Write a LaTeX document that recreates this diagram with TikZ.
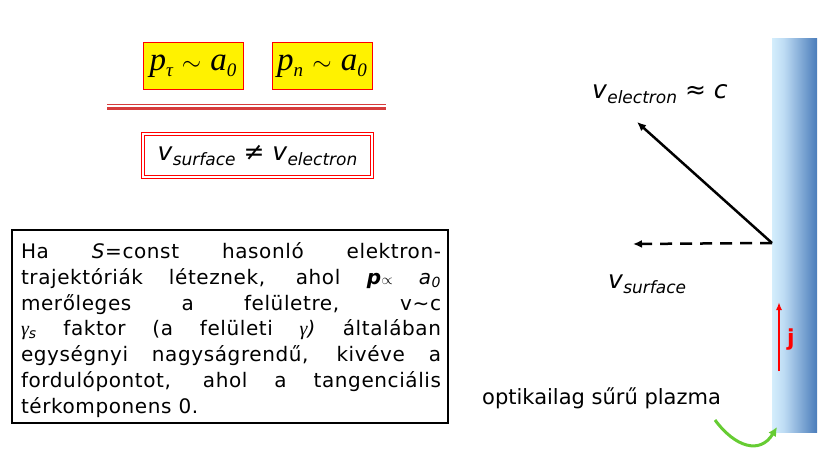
\documentclass[tikz,border=0pt]{standalone}
\usepackage{fontspec}
\setmainfont{DejaVu Sans}
\newfontfamily\tms{Liberation Serif}
\newfontfamily\wide[LetterSpace=3]{DejaVu Sans}
\usetikzlibrary{arrows.meta}
\definecolor{plL}{RGB}{212,238,252}
\definecolor{plM}{RGB}{190,220,244}
\definecolor{plR}{RGB}{74,124,186}
\definecolor{lnred}{RGB}{214,60,60}
\definecolor{grn}{RGB}{102,204,51}
\pgfdeclarehorizontalshading{plasmashade}{100bp}{color(0bp)=(plL); color(25bp)=(plL); color(38bp)=(plM); color(75bp)=(plR); color(100bp)=(plR)}
\newcommand{\tsub}[2][-6pt]{{\fontsize{19}{20}\selectfont\raisebox{#1}{\tms\itshape #2}}}
\newcommand{\vsub}[1]{{\fontsize{17}{20}\selectfont\raisebox{-5pt}{\textit{#1}}}}
\begin{document}
\begin{tikzpicture}[x=1pt,y=-1pt,
  ybox/.style={draw=red,fill=yellow,line width=1pt,minimum width=100pt,minimum height=47pt,inner sep=0pt,font=\fontsize{33}{34}\selectfont\tms},
  dbox/.style={draw=red,double=white,double distance=2pt,line width=0.9pt,minimum width=229pt,minimum height=43pt,inner sep=0pt,font=\fontsize{25}{28}\selectfont},
  framebox/.style={draw=black,line width=1.2pt,minimum width=436pt,minimum height=193pt,inner sep=0pt},
  tbox/.style={text width=420pt,align=justify,inner sep=0pt,font=\fontsize{20}{25.7}\selectfont\wide},
  lbl/.style={inner sep=0pt,font=\fontsize{25}{28}\selectfont},
  arr/.style={line width=2.5pt,-{Latex[length=9pt,width=8pt]}},
]
\useasboundingbox (0,0) rectangle (830,468);
% top formulas
\node[ybox] (pt) at (193,66.5) {\textit{p}\tsub{τ}\;$\sim$\;\textit{a}\tsub{0}};
\node[ybox] (pn) at (322,66.5) {\textit{p}\tsub{n}\;$\sim$\;\textit{a}\tsub{0}};
\draw[lnred,line width=1pt] (107,104.5) -- (386,104.5);
\draw[lnred,line width=3pt] (107,108.5) -- (386,108.5);
\node[dbox] (vs) at (257.5,155.5) {\textit{v}\vsub{surface} ≠ \textit{v}\vsub{electron}};
% text box
\node[framebox] (frame) at (230,326.5) {};
\node[tbox] (txt) at (231,330) {\hyphenpenalty=10000
Ha \textit{S}=const hasonló elektron-\linebreak
trajektóriák léteznek, ahol \textbf{\textit{p}}{\fontsize{15}{15}\selectfont$\propto$} \textit{a}{\fontsize{14}{14}\selectfont\raisebox{-3pt}{\textit{0}}}\linebreak
merőleges a felületre, v\char`\~c\linebreak
{\tms\itshape γ}{\fontsize{14}{14}\selectfont\raisebox{-3pt}{\textit{s}}} faktor (a felületi {\tms\itshape γ}\textit{)} általában\linebreak
egységnyi nagyságrendű, kivéve a\linebreak
fordulópontot, ahol a tangenciális\linebreak
térkomponens 0.};
% plasma
\node[draw=none,shading=plasmashade,minimum width=45pt,minimum height=393pt,inner sep=0pt] (plasma) at (794.5,235.5) {};
\coordinate (src) at (772,243);
\coordinate (etip) at (637,122);
\coordinate (stip) at (633,244);
\coordinate (jbot) at (779,371);
\coordinate (jtop) at (779,302);
\coordinate (gs) at (715,420);
\coordinate (ge) at (777,427);
\draw[arr] (src) -- (etip);
\draw[arr,dash pattern=on 12pt off 8pt] (src) -- (stip);
\draw[red,line width=2pt,-{Latex[length=8pt,width=6pt]}] (jbot) -- (jtop);
\node[lbl,anchor=base west] (ve) at (592,99) {\textit{v}\vsub{electron} ≈ \textit{c}};
\node[lbl,anchor=base west] (vsl) at (608,288) {\textit{v}\vsub{surface}};
\node[inner sep=0pt,text=red,font=\fontsize{22}{24}\selectfont\bfseries] (j) at (791,340) {j};
\node[inner sep=0pt,font=\fontsize{21}{24}\selectfont,anchor=base west] (opt) at (482,404) {optikailag sűrű plazma};
\draw[grn,line width=3pt,-{Latex[length=9pt,width=9pt]}] (gs) .. controls (735,447) and (760,455) .. (ge);
\end{tikzpicture}
\end{document}
